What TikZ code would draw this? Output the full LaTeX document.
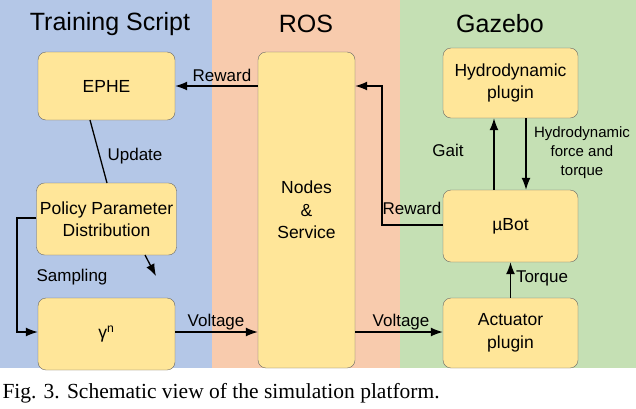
\documentclass[tikz,border=0pt]{standalone}
\usepackage{fontspec}
\setmainfont{Liberation Sans}
\newfontfamily\capfont{Liberation Serif}
\usetikzlibrary{arrows.meta}
\definecolor{pblue}{HTML}{B4C7E7}
\definecolor{porange}{HTML}{F8CBAD}
\definecolor{pgreen}{HTML}{C5E0B4}
\definecolor{bfill}{HTML}{FFE699}
\begin{document}
\begin{tikzpicture}[x=1pt,y=-1pt,
 box/.style={draw=black!60,fill=bfill,rounded corners=8pt,align=center,font=\fontsize{17.5}{22.5}\selectfont},
 lbl/.style={font=\fontsize{17}{20}\selectfont,align=center},
 ttl/.style={font=\fontsize{25}{28}\selectfont},
 arr/.style={-{Latex[length=12pt,width=9pt]},line width=1.3pt},
 ln/.style={line width=1.3pt}]
\useasboundingbox (0,0) rectangle (636,408);
\fill[white] (0,0) rectangle (636,408);
\fill[pblue] (0,0) rectangle (212,368);
\fill[porange] (212,0) rectangle (400,368);
\fill[pgreen] (400,0) rectangle (636,368);
\node[ttl] (t1) at (110,24) {Training Script};
\node[ttl] (t2) at (306,24) {ROS};
\node[ttl] (t3) at (500,24) {Gazebo};
\node[box,minimum width=137pt,minimum height=68pt] (ephe) at (106.5,86) {EPHE};
\node[box,minimum width=137pt,minimum height=72pt] (pol) at (106.5,219) {Policy Parameter\\Distribution};
\node[box,minimum width=137pt,minimum height=72pt] (gam) at (106.5,334) {γ\textsuperscript{n}};
\node[box,minimum width=97pt,minimum height=316pt] (ros) at (306.5,210) {Nodes\\\&\\Service};
\node[box,minimum width=135pt,minimum height=70pt] (hyd) at (510.5,83) {Hydrodynamic\\plugin};
\node[box,minimum width=135pt,minimum height=72pt] (bot) at (510.5,226) {µBot};
\node[box,minimum width=135pt,minimum height=70pt] (act) at (510.5,333) {Actuator\\plugin};
\draw[ln] (90,120) -- (107,183);
\node[lbl] (lu) at (135,156) {Update};
\coordinate (pa) at (145,255); \coordinate (pb) at (156,276);
\draw[arr] (pa) -- (pb);
\node[lbl] (ls) at (72,277) {Sampling};
\coordinate (l1) at (17,218); \coordinate (l2) at (17,332);
\draw[arr] (pol.west |- l1) -- (l1) -- (l2) -- (gam.west |- l2);
\draw[arr] (gam.east |- l2) -- (ros.west |- l2);
\node[lbl] (v1) at (216,322) {Voltage};
\draw[arr] (ros.east |- l2) -- (act.west |- l2);
\node[lbl] (v2) at (401,322) {Voltage};
\coordinate (r0) at (0,86);
\draw[arr] (ros.west |- r0) -- (ephe.east |- r0);
\node[lbl] (rw1) at (222,75) {Reward};
\coordinate (r1) at (382,225); \coordinate (r2) at (382,86);
\draw[arr] (bot.west |- r1) -- (r1) -- (r2) -- (ros.east |- r2);
\node[lbl] (rw2) at (412,208) {Reward};
\coordinate (g) at (494,0); \coordinate (h) at (526,0);
\draw[arr] (bot.north -| g) -- (hyd.south -| g);
\node[lbl] (lg) at (448,150) {Gait};
\draw[arr] (hyd.south -| h) -- (bot.north -| h);
\node[lbl,font=\fontsize{15}{19}\selectfont] (lh) at (582,153) {Hydrodynamic\\force and\\torque};
\draw[arr] (act.north) -- (bot.south);
\node[lbl] (lt) at (542,278) {Torque};
\node[anchor=west,font=\capfont\fontsize{21.5}{24}\selectfont] (cap) at (-1,393) {Fig. 3. Schematic view of the simulation platform.};
\end{tikzpicture}
\end{document}
